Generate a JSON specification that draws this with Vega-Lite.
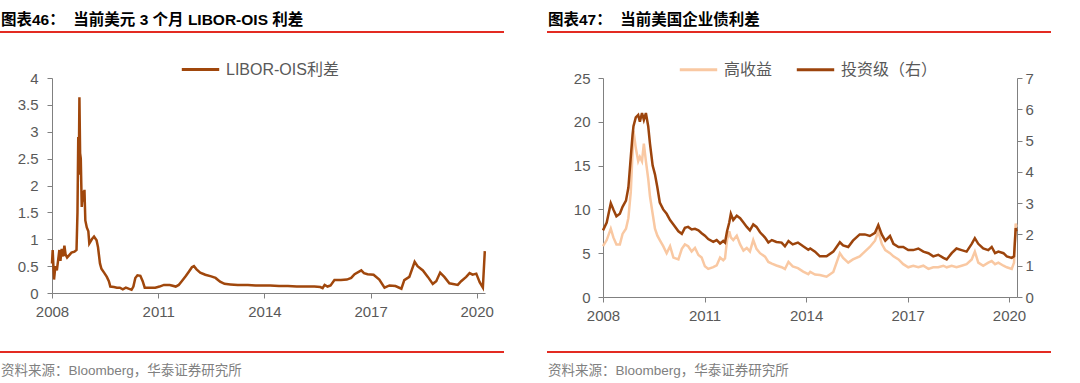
{
  "$schema": "https://vega.github.io/schema/vega-lite/v6.json",
  "padding": {"left": 0, "top": 11, "right": 0, "bottom": 0},
  "background": "white",
  "spacing": 15,
  "config": {
    "view": {"stroke": null},
    "font": "Liberation Sans, Noto Sans CJK SC",
    "axis": {"domainColor": "#808080", "tickColor": "#808080", "labelColor": "#595959", "labelFont": "Liberation Sans", "labelFontSize": 15, "grid": false, "tickSize": 5, "title": null, "domainWidth": 1}
  },
  "vconcat": [
    {
      "spacing": 43,
      "hconcat": [
        {
          "width": 502, "height": 0.01,
          "view": {"stroke": "#E32B22", "strokeWidth": 2},
          "data": {"values": []},
          "mark": "rule",
          "encoding": {},
          "title": {"text": "图表46：\u00a0\u00a0当前美元 3 个月 LIBOR-OIS 利差", "anchor": "start", "frame": "group", "offset": -8, "baseline": "alphabetic", "fontSize": 15.5, "fontWeight": "bold", "color": "#000000", "font": "Liberation Sans, Noto Sans CJK SC"}
        },
        {
          "width": 502, "height": 0.01,
          "view": {"stroke": "#E32B22", "strokeWidth": 2},
          "data": {"values": []},
          "mark": "rule",
          "encoding": {},
          "title": {"text": "图表47：\u00a0\u00a0当前美国企业债利差", "anchor": "start", "frame": "group", "offset": -8, "baseline": "alphabetic", "fontSize": 15.5, "fontWeight": "bold", "color": "#000000", "font": "Liberation Sans, Noto Sans CJK SC"}
        }
      ]
    },
    {
      "spacing": 28,
      "vconcat": [
        {
          "spacing": 45,
          "resolve": {"scale": {"color": "independent"}, "legend": {"color": "independent"}},
          "hconcat": [
            {
              "width": 502, "height": 215,
              "view": {"fill": "#ffffff", "stroke": null},
              "data": {"values": [
                {"date": "2008-01-01", "v": 0.55}, {"date": "2008-01-08", "v": 0.80}, {"date": "2008-01-22", "v": 0.25},
                {"date": "2008-02-05", "v": 0.50}, {"date": "2008-02-20", "v": 0.42}, {"date": "2008-03-05", "v": 0.62},
                {"date": "2008-03-17", "v": 0.80}, {"date": "2008-03-28", "v": 0.60}, {"date": "2008-04-10", "v": 0.82},
                {"date": "2008-04-25", "v": 0.68}, {"date": "2008-05-08", "v": 0.88}, {"date": "2008-05-20", "v": 0.72},
                {"date": "2008-06-05", "v": 0.66}, {"date": "2008-06-25", "v": 0.70}, {"date": "2008-07-20", "v": 0.75},
                {"date": "2008-08-20", "v": 0.77}, {"date": "2008-09-10", "v": 0.80}, {"date": "2008-09-20", "v": 1.50},
                {"date": "2008-09-28", "v": 2.90}, {"date": "2008-10-03", "v": 2.20}, {"date": "2008-10-10", "v": 3.64},
                {"date": "2008-10-17", "v": 2.60}, {"date": "2008-10-24", "v": 2.50}, {"date": "2008-11-03", "v": 1.60},
                {"date": "2008-11-15", "v": 1.90}, {"date": "2008-11-22", "v": 1.70}, {"date": "2008-12-01", "v": 1.92},
                {"date": "2008-12-10", "v": 1.35}, {"date": "2008-12-25", "v": 1.22}, {"date": "2009-01-10", "v": 1.15},
                {"date": "2009-01-20", "v": 0.92}, {"date": "2009-02-15", "v": 1.00}, {"date": "2009-03-10", "v": 1.05},
                {"date": "2009-04-05", "v": 0.98}, {"date": "2009-04-20", "v": 0.85}, {"date": "2009-05-10", "v": 0.55},
                {"date": "2009-05-25", "v": 0.45}, {"date": "2009-06-25", "v": 0.37}, {"date": "2009-07-20", "v": 0.30},
                {"date": "2009-08-10", "v": 0.22}, {"date": "2009-08-25", "v": 0.12}, {"date": "2009-10-01", "v": 0.11},
                {"date": "2009-11-01", "v": 0.10}, {"date": "2009-12-01", "v": 0.10}, {"date": "2010-01-01", "v": 0.07},
                {"date": "2010-02-01", "v": 0.10}, {"date": "2010-03-01", "v": 0.08}, {"date": "2010-04-01", "v": 0.06},
                {"date": "2010-04-20", "v": 0.12}, {"date": "2010-05-10", "v": 0.28}, {"date": "2010-06-01", "v": 0.33},
                {"date": "2010-07-01", "v": 0.32}, {"date": "2010-07-25", "v": 0.22}, {"date": "2010-08-15", "v": 0.10},
                {"date": "2010-10-01", "v": 0.10}, {"date": "2010-12-01", "v": 0.10}, {"date": "2011-01-15", "v": 0.12},
                {"date": "2011-03-01", "v": 0.15}, {"date": "2011-05-01", "v": 0.15}, {"date": "2011-07-01", "v": 0.12},
                {"date": "2011-08-01", "v": 0.15}, {"date": "2011-09-01", "v": 0.22}, {"date": "2011-10-15", "v": 0.32},
                {"date": "2011-11-15", "v": 0.40}, {"date": "2011-12-15", "v": 0.48}, {"date": "2012-01-05", "v": 0.50},
                {"date": "2012-02-01", "v": 0.44}, {"date": "2012-03-10", "v": 0.38}, {"date": "2012-05-01", "v": 0.34},
                {"date": "2012-07-01", "v": 0.31}, {"date": "2012-08-15", "v": 0.28}, {"date": "2012-10-01", "v": 0.21},
                {"date": "2012-11-15", "v": 0.17}, {"date": "2013-01-15", "v": 0.16}, {"date": "2013-04-01", "v": 0.15},
                {"date": "2013-07-15", "v": 0.15}, {"date": "2013-10-01", "v": 0.14}, {"date": "2014-01-01", "v": 0.14},
                {"date": "2014-03-01", "v": 0.14}, {"date": "2014-06-01", "v": 0.13}, {"date": "2014-09-01", "v": 0.13},
                {"date": "2014-12-01", "v": 0.12}, {"date": "2015-03-01", "v": 0.12}, {"date": "2015-06-01", "v": 0.12},
                {"date": "2015-08-01", "v": 0.11}, {"date": "2015-08-25", "v": 0.09}, {"date": "2015-09-15", "v": 0.15},
                {"date": "2015-10-15", "v": 0.12}, {"date": "2015-11-15", "v": 0.14}, {"date": "2015-12-25", "v": 0.24},
                {"date": "2016-03-01", "v": 0.24}, {"date": "2016-05-01", "v": 0.25}, {"date": "2016-06-15", "v": 0.28},
                {"date": "2016-07-20", "v": 0.35}, {"date": "2016-09-27", "v": 0.42}, {"date": "2016-10-25", "v": 0.37},
                {"date": "2016-12-01", "v": 0.35}, {"date": "2017-02-01", "v": 0.34}, {"date": "2017-04-01", "v": 0.25},
                {"date": "2017-05-25", "v": 0.10}, {"date": "2017-07-15", "v": 0.14}, {"date": "2017-09-15", "v": 0.13},
                {"date": "2017-11-15", "v": 0.08}, {"date": "2017-12-15", "v": 0.24}, {"date": "2018-02-05", "v": 0.30},
                {"date": "2018-04-01", "v": 0.58}, {"date": "2018-05-01", "v": 0.50}, {"date": "2018-06-25", "v": 0.42},
                {"date": "2018-08-15", "v": 0.30}, {"date": "2018-10-05", "v": 0.17}, {"date": "2018-11-10", "v": 0.22},
                {"date": "2018-12-20", "v": 0.38}, {"date": "2019-02-01", "v": 0.30}, {"date": "2019-03-25", "v": 0.18},
                {"date": "2019-06-20", "v": 0.15}, {"date": "2019-07-25", "v": 0.22}, {"date": "2019-09-15", "v": 0.30},
                {"date": "2019-10-20", "v": 0.37}, {"date": "2019-11-20", "v": 0.34}, {"date": "2019-12-28", "v": 0.36},
                {"date": "2020-02-01", "v": 0.20}, {"date": "2020-03-05", "v": 0.10}, {"date": "2020-03-25", "v": 0.78}
              ]},
              "mark": {"type": "line", "strokeWidth": 2.5},
              "encoding": {
                "x": {"field": "date", "type": "temporal",
                      "scale": {"domain": [{"year": 2008, "month": 1, "date": 1}, {"year": 2020, "month": 3, "date": 27}], "range": [51, 484]},
                      "axis": {"values": [{"year": 2008}, {"year": 2011}, {"year": 2014}, {"year": 2017}, {"year": 2020}], "format": "%Y", "labelPadding": 6, "labelFlush": false}},
                "y": {"field": "v", "type": "quantitative",
                      "scale": {"domain": [0, 4], "nice": false},
                      "axis": {"values": [0, 0.5, 1, 1.5, 2, 2.5, 3, 3.5, 4], "format": "~g", "offset": -51, "labelPadding": 9}},
                "color": {"datum": "LIBOR-OIS利差",
                          "scale": {"domain": ["LIBOR-OIS利差"], "range": ["#A0470C"]},
                          "legend": {"orient": "none", "legendX": 179, "legendY": -29, "direction": "horizontal", "title": null, "symbolType": "stroke", "symbolSize": 1400, "symbolStrokeWidth": 3, "labelFontSize": 16, "labelColor": "#595959", "labelFont": "Liberation Sans, Noto Sans CJK SC", "labelOffset": 5}}
              }
            },
            {
              "width": 502, "height": 219,
              "view": {"fill": "#ffffff", "stroke": null},
              "data": {"values": [
                {"date": "2008-01-01", "hy": 5.8, "ig": 2.13}, {"date": "2008-02-10", "hy": 6.5, "ig": 2.38},
                {"date": "2008-03-25", "hy": 7.8, "ig": 3.0}, {"date": "2008-04-22", "hy": 6.8, "ig": 2.8},
                {"date": "2008-05-25", "hy": 6.0, "ig": 2.58}, {"date": "2008-07-01", "hy": 6.0, "ig": 2.66},
                {"date": "2008-07-30", "hy": 7.2, "ig": 2.88}, {"date": "2008-09-05", "hy": 7.8, "ig": 3.08},
                {"date": "2008-10-01", "hy": 9.0, "ig": 3.5}, {"date": "2008-10-27", "hy": 12.0, "ig": 4.48},
                {"date": "2008-11-15", "hy": 16.5, "ig": 5.18}, {"date": "2008-11-25", "hy": 19.0, "ig": 5.46},
                {"date": "2008-12-20", "hy": 17.0, "ig": 5.74}, {"date": "2009-01-15", "hy": 15.5, "ig": 5.82},
                {"date": "2009-02-02", "hy": 16.0, "ig": 5.6}, {"date": "2009-02-25", "hy": 15.5, "ig": 5.88},
                {"date": "2009-03-17", "hy": 17.5, "ig": 5.66}, {"date": "2009-04-08", "hy": 15.5, "ig": 5.88},
                {"date": "2009-05-03", "hy": 13.5, "ig": 5.46}, {"date": "2009-05-22", "hy": 11.5, "ig": 4.9},
                {"date": "2009-06-20", "hy": 9.5, "ig": 4.2}, {"date": "2009-07-15", "hy": 7.8, "ig": 3.92},
                {"date": "2009-08-10", "hy": 7.0, "ig": 3.5}, {"date": "2009-09-05", "hy": 6.5, "ig": 3.02},
                {"date": "2009-10-12", "hy": 5.8, "ig": 2.8}, {"date": "2009-11-18", "hy": 5.0, "ig": 2.66},
                {"date": "2009-12-25", "hy": 5.8, "ig": 2.46}, {"date": "2010-01-30", "hy": 4.5, "ig": 2.32},
                {"date": "2010-03-25", "hy": 4.3, "ig": 2.1}, {"date": "2010-05-01", "hy": 5.5, "ig": 2.02},
                {"date": "2010-06-03", "hy": 6.0, "ig": 2.21}, {"date": "2010-07-08", "hy": 5.8, "ig": 2.24},
                {"date": "2010-08-15", "hy": 5.2, "ig": 2.16}, {"date": "2010-09-20", "hy": 5.6, "ig": 2.18},
                {"date": "2010-10-27", "hy": 4.8, "ig": 2.13}, {"date": "2010-12-01", "hy": 4.5, "ig": 2.04},
                {"date": "2011-01-05", "hy": 3.5, "ig": 1.96}, {"date": "2011-02-10", "hy": 3.2, "ig": 1.85},
                {"date": "2011-04-05", "hy": 3.4, "ig": 1.76}, {"date": "2011-05-12", "hy": 3.6, "ig": 1.82},
                {"date": "2011-06-18", "hy": 4.5, "ig": 1.71}, {"date": "2011-07-22", "hy": 4.2, "ig": 1.79},
                {"date": "2011-08-10", "hy": 4.4, "ig": 1.74}, {"date": "2011-09-01", "hy": 6.5, "ig": 2.1},
                {"date": "2011-09-25", "hy": 7.5, "ig": 2.38}, {"date": "2011-10-12", "hy": 6.8, "ig": 2.66},
                {"date": "2011-11-07", "hy": 6.5, "ig": 2.46}, {"date": "2011-12-15", "hy": 7.0, "ig": 2.6},
                {"date": "2012-01-20", "hy": 6.0, "ig": 2.52}, {"date": "2012-02-25", "hy": 5.3, "ig": 2.38},
                {"date": "2012-04-01", "hy": 5.6, "ig": 2.24}, {"date": "2012-05-05", "hy": 5.2, "ig": 2.13},
                {"date": "2012-06-10", "hy": 6.5, "ig": 2.32}, {"date": "2012-07-15", "hy": 5.5, "ig": 2.24},
                {"date": "2012-08-22", "hy": 5.0, "ig": 2.07}, {"date": "2012-10-15", "hy": 4.6, "ig": 1.9},
                {"date": "2012-11-20", "hy": 4.0, "ig": 1.74}, {"date": "2012-12-28", "hy": 3.8, "ig": 1.82},
                {"date": "2013-02-15", "hy": 3.6, "ig": 1.76}, {"date": "2013-04-12", "hy": 3.4, "ig": 1.74},
                {"date": "2013-05-18", "hy": 3.2, "ig": 1.62}, {"date": "2013-06-25", "hy": 4.0, "ig": 1.79},
                {"date": "2013-08-10", "hy": 3.5, "ig": 1.68}, {"date": "2013-10-05", "hy": 3.3, "ig": 1.74},
                {"date": "2013-12-01", "hy": 2.9, "ig": 1.62}, {"date": "2014-01-25", "hy": 2.6, "ig": 1.51},
                {"date": "2014-02-15", "hy": 2.86, "ig": 1.55}, {"date": "2014-04-08", "hy": 2.57, "ig": 1.45},
                {"date": "2014-05-30", "hy": 2.5, "ig": 1.3}, {"date": "2014-08-10", "hy": 2.32, "ig": 1.3},
                {"date": "2014-10-22", "hy": 2.86, "ig": 1.45}, {"date": "2015-01-01", "hy": 5.0, "ig": 1.75},
                {"date": "2015-02-05", "hy": 4.46, "ig": 1.65}, {"date": "2015-04-01", "hy": 3.93, "ig": 1.6},
                {"date": "2015-05-22", "hy": 4.29, "ig": 1.8}, {"date": "2015-08-03", "hy": 4.64, "ig": 2.0},
                {"date": "2015-09-27", "hy": 5.18, "ig": 2.0}, {"date": "2015-11-20", "hy": 5.71, "ig": 1.95},
                {"date": "2016-01-15", "hy": 6.43, "ig": 2.05}, {"date": "2016-02-20", "hy": 7.5, "ig": 2.3},
                {"date": "2016-03-28", "hy": 6.07, "ig": 2.0}, {"date": "2016-05-05", "hy": 5.36, "ig": 1.8},
                {"date": "2016-06-25", "hy": 5.0, "ig": 1.95}, {"date": "2016-08-01", "hy": 4.64, "ig": 1.7},
                {"date": "2016-09-25", "hy": 4.29, "ig": 1.6}, {"date": "2016-11-15", "hy": 3.75, "ig": 1.6},
                {"date": "2017-01-08", "hy": 3.39, "ig": 1.5}, {"date": "2017-03-03", "hy": 3.57, "ig": 1.5},
                {"date": "2017-04-27", "hy": 3.39, "ig": 1.55}, {"date": "2017-06-20", "hy": 3.57, "ig": 1.45},
                {"date": "2017-08-14", "hy": 3.21, "ig": 1.4}, {"date": "2017-10-05", "hy": 3.39, "ig": 1.3},
                {"date": "2017-11-28", "hy": 3.39, "ig": 1.35}, {"date": "2018-01-22", "hy": 3.57, "ig": 1.25},
                {"date": "2018-02-27", "hy": 3.39, "ig": 1.2}, {"date": "2018-04-22", "hy": 3.57, "ig": 1.4},
                {"date": "2018-06-13", "hy": 3.39, "ig": 1.55}, {"date": "2018-08-07", "hy": 3.57, "ig": 1.5},
                {"date": "2018-09-30", "hy": 3.75, "ig": 1.45}, {"date": "2018-11-24", "hy": 4.29, "ig": 1.7},
                {"date": "2018-12-28", "hy": 5.18, "ig": 1.88}, {"date": "2019-02-03", "hy": 3.93, "ig": 1.7},
                {"date": "2019-03-28", "hy": 3.57, "ig": 1.55}, {"date": "2019-05-22", "hy": 3.93, "ig": 1.5},
                {"date": "2019-06-28", "hy": 4.11, "ig": 1.6}, {"date": "2019-08-03", "hy": 3.75, "ig": 1.4},
                {"date": "2019-09-08", "hy": 3.93, "ig": 1.45}, {"date": "2019-11-02", "hy": 3.57, "ig": 1.4},
                {"date": "2019-12-08", "hy": 3.39, "ig": 1.3}, {"date": "2020-01-30", "hy": 3.21, "ig": 1.25},
                {"date": "2020-02-24", "hy": 3.93, "ig": 1.3}, {"date": "2020-03-13", "hy": 8.39, "ig": 2.2},
                {"date": "2020-03-22", "hy": 8.0, "ig": 2.1}
              ]},
              "encoding": {
                "x": {"field": "date", "type": "temporal",
                      "scale": {"domain": [{"year": 2008, "month": 1, "date": 1}, {"year": 2020, "month": 3, "date": 27}], "range": [55, 469]},
                      "axis": {"values": [{"year": 2008}, {"year": 2011}, {"year": 2014}, {"year": 2017}, {"year": 2020}], "format": "%Y", "labelPadding": 6, "labelFlush": false}}
              },
              "layer": [
                {
                  "mark": {"type": "line", "strokeWidth": 2.5},
                  "encoding": {
                    "y": {"field": "hy", "type": "quantitative", "scale": {"domain": [0, 25], "nice": false},
                          "axis": {"orient": "left", "values": [0, 5, 10, 15, 20, 25], "offset": -55, "labelPadding": 8}},
                    "color": {"datum": "高收益",
                              "scale": {"domain": ["高收益", "投资级（右）"], "range": ["#F9C8A2", "#9C440C"]},
                              "legend": {"orient": "none", "legendX": 130, "legendY": -29, "direction": "horizontal", "title": null, "symbolType": "stroke", "symbolSize": 1400, "symbolStrokeWidth": 3, "labelFontSize": 16, "labelColor": "#595959", "labelFont": "Liberation Sans, Noto Sans CJK SC", "labelOffset": 5, "columnPadding": 17}}
                  }
                },
                {
                  "mark": {"type": "line", "strokeWidth": 2.5},
                  "encoding": {
                    "y": {"field": "ig", "type": "quantitative", "scale": {"domain": [0, 7], "nice": false},
                          "axis": {"orient": "right", "values": [0, 1, 2, 3, 4, 5, 6, 7], "offset": -33, "labelPadding": 3}},
                    "color": {"datum": "投资级（右）"}
                  }
                }
              ],
              "resolve": {"scale": {"y": "independent"}}
            }
          ]
        },
        {
          "spacing": 43,
          "hconcat": [
            {
              "width": 502, "height": 0.01,
              "view": {"stroke": "#E32B22", "strokeWidth": 2},
              "data": {"values": []},
              "mark": "rule",
              "encoding": {},
              "title": {"text": "资料来源：Bloomberg，华泰证券研究所", "orient": "bottom", "anchor": "start", "frame": "group", "offset": 12, "baseline": "top", "fontSize": 13.5, "fontWeight": "normal", "color": "#808080", "font": "Liberation Sans, Noto Sans CJK SC"}
            },
            {
              "width": 502, "height": 0.01,
              "view": {"stroke": "#E32B22", "strokeWidth": 2},
              "data": {"values": []},
              "mark": "rule",
              "encoding": {},
              "title": {"text": "资料来源：Bloomberg，华泰证券研究所", "orient": "bottom", "anchor": "start", "frame": "group", "offset": 12, "baseline": "top", "fontSize": 13.5, "fontWeight": "normal", "color": "#808080", "font": "Liberation Sans, Noto Sans CJK SC"}
            }
          ]
        }
      ]
    }
  ]
}
